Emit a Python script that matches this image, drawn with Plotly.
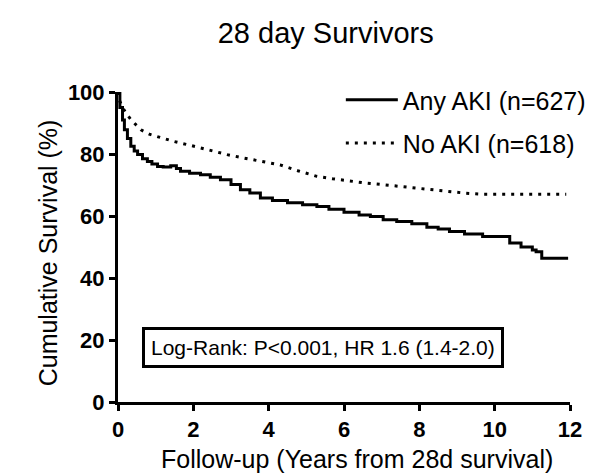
"""Kaplan-Meier curves: 28 day survivors, any AKI vs no AKI."""

import plotly.graph_objects as go

FONT = "Liberation Sans, Arial, sans-serif"

# Any AKI (n=627) - step survival curve
aki_years = [0, 0.05, 0.12, 0.17, 0.25, 0.34, 0.43, 0.52, 0.65, 0.78, 0.9, 1.05,
             1.2, 1.4, 1.55, 1.66, 1.9, 2.19, 2.45, 2.72, 3.0, 3.25, 3.5, 3.78,
             4.1, 4.5, 4.9, 5.28, 5.6, 6.0, 6.4, 6.7, 7.04, 7.4, 7.8, 8.2, 8.5,
             8.8, 9.2, 9.68, 10.0, 10.3, 10.4, 10.7, 11.0, 11.1, 11.25, 11.95]
aki_surv = [100, 95, 91, 87.8, 85, 82.5, 81, 79.8, 78.5, 77.6, 76.8, 76.0,
            75.8, 76.2, 75.3, 74.4, 73.8, 73.3, 72.5, 71.7, 70.2, 68.5, 67.4, 65.8,
            65.0, 64.3, 63.6, 63.1, 62.2, 61.2, 60.3, 59.8, 58.8, 58.2, 57.5, 56.4, 55.8,
            55.0, 54.2, 53.4, 53.4, 53.4, 51.3, 50.0, 49.0, 48.5, 46.4, 46.4]

# No AKI (n=618)
no_aki_years = [0, 0.05, 0.1, 0.21, 0.35, 0.61, 0.85, 1.14, 1.5, 2.02, 2.5, 2.9,
                3.3, 3.78, 4.3, 4.8, 5.28, 5.7, 6.16, 6.6, 7.04, 7.5, 7.92, 8.4,
                8.8, 9.2, 9.68, 10.2, 10.8, 11.3, 11.9]
no_aki_surv = [100, 97, 95.5, 93.2, 91, 87.8, 86.3, 85.2, 84, 82.5, 81, 79.8,
               78.8, 77.6, 76.5, 74.5, 72.8, 72.0, 71.2, 70.6, 70.1, 69.5, 69.0, 68.4,
               67.9, 67.4, 67.0, 67.0, 67.0, 67.0, 67.0]

x_ticks = [0, 2, 4, 6, 8, 10, 12]
y_ticks = [0, 20, 40, 60, 80, 100]

fig = go.Figure()

fig.add_trace(go.Scatter(
    x=aki_years, y=aki_surv, mode="lines", name="Any AKI (n=627)",
    line=dict(color="black", width=3, shape="hv"), legend="legend",
))
fig.add_trace(go.Scatter(
    x=no_aki_years, y=no_aki_surv, mode="lines", name="No AKI (n=618)",
    line=dict(color="black", width=3, dash="3px,6px"), legend="legend2",
))

axis_style = dict(
    showline=True, linecolor="black", linewidth=3,
    ticks="outside", tickcolor="black", tickwidth=3, ticklen=6,
    showgrid=False, zeroline=False,
    tickfont=dict(family=FONT, size=22, color="black", weight="bold"),
)

fig.update_xaxes(range=[0, 12], tickvals=x_ticks, **axis_style)
fig.update_yaxes(range=[0, 100], tickvals=y_ticks, **axis_style)

legend_style = dict(
    xanchor="left", yanchor="middle", bgcolor="rgba(0,0,0,0)",
    font=dict(family=FONT, size=25, color="black"), itemwidth=52,
)

# page body adds an 8px offset, margins compensate for it
fig.update_layout(
    width=595, height=476,
    margin=dict(l=110, r=31, t=84, b=82),
    paper_bgcolor="white", plot_bgcolor="white",
    font=dict(family=FONT, color="black"),
    title=dict(text="28 day Survivors", x=0.534, xanchor="center", y=0.947, yanchor="middle",
               font=dict(family=FONT, size=29, color="black")),
    legend=dict(x=0.493, y=0.974, **legend_style),
    legend2=dict(x=0.493, y=0.835, **legend_style),
    showlegend=True,
)

# Axis titles
fig.add_annotation(
    text="Cumulative Survival (%)", xref="paper", yref="paper",
    x=-0.19, y=0.48, textangle=-90, showarrow=False,
    font=dict(family=FONT, size=25, color="black"),
)
fig.add_annotation(
    text="Follow-up (Years from 28d survival)", xref="paper", yref="paper",
    x=0.528, y=-0.237, showarrow=False,
    font=dict(family=FONT, size=25, color="black"),
)

# Log-rank box
fig.add_annotation(
    text="Log-Rank: P<0.001, HR 1.6 (1.4-2.0)", xref="x", yref="y",
    x=5.43, y=17.6, showarrow=False,
    font=dict(family=FONT, size=21, color="black"),
    bordercolor="black", borderwidth=3, borderpad=6, bgcolor="white",
)

fig.write_html("out.html")
